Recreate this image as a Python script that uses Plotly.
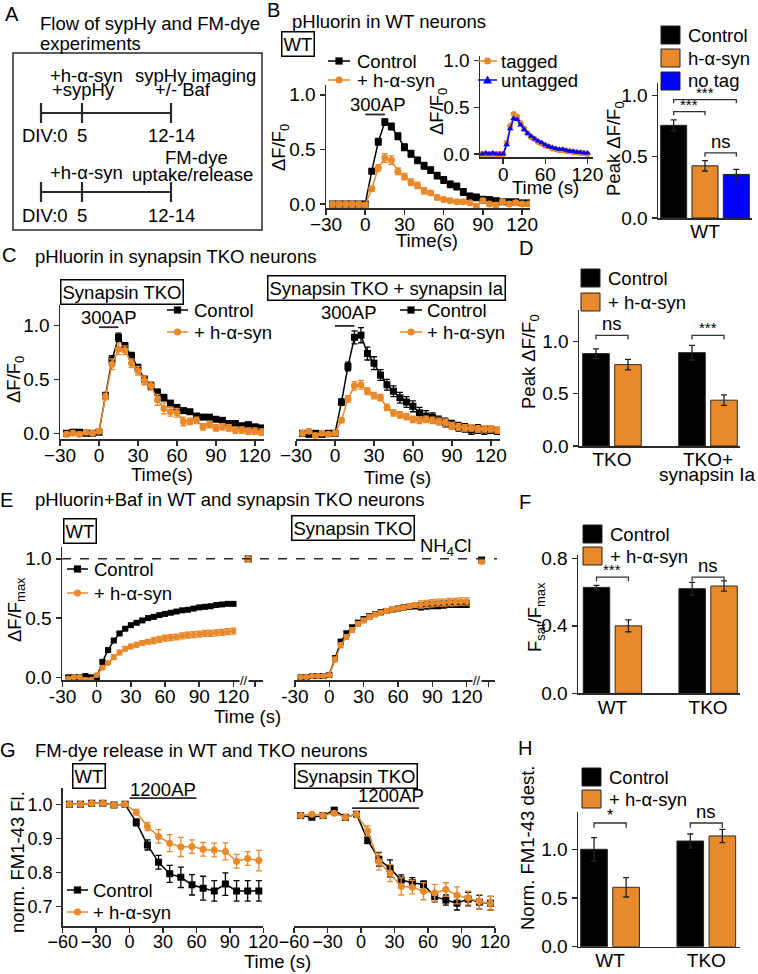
import plotly.graph_objects as go

# ---------------- data ----------------
# Panel B (WT sypHy, 300AP)
B_TIME = [-25, -20, -15, -10, -5, 0, 5, 10, 15, 20, 25, 30, 35, 40, 45, 50, 55, 60, 65, 70, 75, 80, 85, 90, 95, 100, 105, 110, 115, 120, 125]
B_CTRL = [0.0, 0.0, 0.0, 0.0, 0.0, 0.0, 0.30, 0.57, 0.75, 0.71, 0.62, 0.52, 0.46, 0.40, 0.35, 0.31, 0.26, 0.22, 0.18, 0.16, 0.11, 0.07, 0.06, 0.04, 0.04, 0.03, 0.02, 0.02, 0.02, 0.01, 0.01]
B_CTRL_ERR = [0.02, 0.02, 0.02, 0.02, 0.02, 0.02, 0.02, 0.03, 0.03, 0.03, 0.03, 0.03, 0.03, 0.03, 0.03, 0.03, 0.03, 0.03, 0.03, 0.03, 0.03, 0.03, 0.03, 0.03, 0.02, 0.02, 0.02, 0.02, 0.02, 0.02, 0.02]
B_SYN = [0.0, 0.0, 0.0, 0.0, 0.0, -0.01, 0.14, 0.33, 0.42, 0.40, 0.30, 0.25, 0.20, 0.17, 0.12, 0.10, 0.06, 0.04, 0.03, 0.02, 0.02, 0.01, -0.02, 0.03, 0.0, -0.01, 0.02, 0.0, 0.01, 0.0, 0.0]
B_SYN_ERR = [0.02, 0.02, 0.02, 0.02, 0.02, 0.02, 0.02, 0.03, 0.04, 0.04, 0.03, 0.03, 0.03, 0.03, 0.03, 0.02, 0.02, 0.02, 0.02, 0.02, 0.02, 0.02, 0.02, 0.02, 0.02, 0.02, 0.02, 0.02, 0.02, 0.02, 0.02]

# Panel B inset (tagged / untagged)
INS_TIME = [-30, -25, -20, -15, -10, -5, 0, 5, 10, 15, 20, 25, 30, 35, 40, 45, 50, 55, 60, 65, 70, 75, 80, 85, 90, 95, 100, 105, 110, 115, 120]
INS_TAGGED = [0.0, 0.0, 0.0, 0.0, 0.0, 0.0, 0.0, 0.12, 0.30, 0.43, 0.40, 0.33, 0.27, 0.22, 0.18, 0.16, 0.13, 0.11, 0.09, 0.08, 0.06, 0.05, 0.04, 0.04, 0.03, 0.03, 0.02, 0.02, 0.01, 0.01, 0.0]
INS_UNTAGGED = [0.0, 0.01, 0.0, 0.01, 0.0, 0.0, 0.0, 0.10, 0.27, 0.38, 0.37, 0.31, 0.26, 0.22, 0.19, 0.16, 0.14, 0.12, 0.10, 0.08, 0.07, 0.06, 0.05, 0.05, 0.04, 0.03, 0.03, 0.02, 0.02, 0.01, 0.01]

# Panel B bars
B_BAR_LABELS = ["Control", "h-α-syn", "no tag"]
B_BAR_VALUES = [0.755, 0.425, 0.355]
B_BAR_ERR = [0.045, 0.042, 0.042]

# Panel C (TKO and TKO + synapsin Ia)
C_TIME = [-25, -20, -15, -10, -5, 0, 5, 10, 15, 20, 25, 30, 35, 40, 45, 50, 55, 60, 65, 70, 75, 80, 85, 90, 95, 100, 105, 110, 115, 120, 125]
C_TKO_CTRL = [0.0, 0.01, 0.01, 0.0, 0.0, 0.01, 0.35, 0.68, 0.89, 0.81, 0.72, 0.61, 0.50, 0.44, 0.38, 0.33, 0.28, 0.24, 0.21, 0.20, 0.16, 0.15, 0.15, 0.13, 0.12, 0.09, 0.09, 0.07, 0.08, 0.06, 0.05]
C_TKO_CTRL_ERR = [0.02, 0.02, 0.02, 0.02, 0.02, 0.02, 0.03, 0.04, 0.04, 0.03, 0.03, 0.03, 0.03, 0.03, 0.03, 0.03, 0.02, 0.02, 0.02, 0.02, 0.02, 0.02, 0.02, 0.02, 0.02, 0.02, 0.02, 0.02, 0.02, 0.02, 0.02]
C_TKO_SYN = [-0.01, 0.0, -0.01, 0.01, 0.0, 0.02, 0.34, 0.64, 0.78, 0.77, 0.65, 0.58, 0.49, 0.44, 0.31, 0.23, 0.20, 0.19, 0.11, 0.11, 0.12, 0.06, 0.08, 0.05, 0.06, 0.05, 0.03, 0.03, 0.02, 0.02, 0.01]
C_TKO_SYN_ERR = [0.02, 0.02, 0.02, 0.02, 0.02, 0.02, 0.03, 0.05, 0.05, 0.04, 0.04, 0.04, 0.04, 0.04, 0.05, 0.05, 0.04, 0.04, 0.04, 0.03, 0.03, 0.03, 0.03, 0.03, 0.03, 0.03, 0.03, 0.03, 0.03, 0.03, 0.03]
C_IA_CTRL = [0.0, -0.01, 0.0, -0.01, 0.0, 0.0, 0.29, 0.62, 0.89, 0.91, 0.74, 0.65, 0.54, 0.45, 0.39, 0.33, 0.29, 0.25, 0.19, 0.16, 0.15, 0.12, 0.10, 0.08, 0.06, 0.05, 0.03, 0.04, 0.03, 0.03, 0.02]
C_IA_CTRL_ERR = [0.02, 0.02, 0.02, 0.02, 0.02, 0.02, 0.03, 0.04, 0.06, 0.07, 0.06, 0.06, 0.05, 0.05, 0.05, 0.05, 0.05, 0.05, 0.05, 0.05, 0.04, 0.04, 0.04, 0.04, 0.04, 0.04, 0.04, 0.04, 0.04, 0.03, 0.03]
C_IA_SYN = [0.0, 0.02, -0.02, 0.0, -0.01, 0.0, 0.12, 0.32, 0.44, 0.45, 0.39, 0.35, 0.33, 0.24, 0.19, 0.17, 0.155, 0.13, 0.12, 0.13, 0.12, 0.11, 0.10, 0.07, 0.06, 0.05, 0.05, 0.04, 0.04, 0.04, 0.03]
C_IA_SYN_ERR = [0.02, 0.02, 0.02, 0.02, 0.02, 0.02, 0.02, 0.03, 0.04, 0.04, 0.03, 0.03, 0.03, 0.03, 0.03, 0.03, 0.03, 0.03, 0.03, 0.03, 0.03, 0.03, 0.03, 0.03, 0.03, 0.03, 0.03, 0.03, 0.03, 0.03, 0.03]

# Panel D bars
D_GROUPS = ["TKO", "TKO+"]
D_GROUP_SUB = "synapsin Ia"
D_CTRL = [0.883, 0.892]
D_CTRL_ERR = [0.045, 0.07]
D_SYN = [0.778, 0.438]
D_SYN_ERR = [0.05, 0.05]

# Panel E (Baf)
E_TIME = [-25, -20, -15, -10, -5, 0, 5, 10, 15, 20, 25, 30, 35, 40, 45, 50, 55, 60, 65, 70, 75, 80, 85, 90, 95, 100, 105, 110, 115, 120]
E_WT_CTRL = [0.0, 0.0, 0.0, 0.01, 0.0, 0.0, 0.13, 0.23, 0.31, 0.37, 0.41, 0.44, 0.46, 0.48, 0.50, 0.51, 0.525, 0.535, 0.545, 0.555, 0.565, 0.57, 0.58, 0.59, 0.595, 0.60, 0.61, 0.615, 0.62, 0.62]
E_WT_CTRL_ERR = [0.01, 0.01, 0.01, 0.01, 0.01, 0.01, 0.01, 0.01, 0.01, 0.01, 0.01, 0.01, 0.01, 0.01, 0.01, 0.01, 0.01, 0.01, 0.01, 0.01, 0.01, 0.01, 0.01, 0.01, 0.01, 0.01, 0.01, 0.01, 0.01, 0.01]
E_WT_SYN = [-0.01, 0.0, 0.0, -0.02, -0.02, 0.02, 0.08, 0.12, 0.17, 0.21, 0.24, 0.26, 0.275, 0.29, 0.30, 0.31, 0.32, 0.33, 0.335, 0.34, 0.35, 0.355, 0.36, 0.365, 0.37, 0.37, 0.375, 0.38, 0.385, 0.39]
E_WT_SYN_ERR = [0.01, 0.01, 0.01, 0.01, 0.01, 0.01, 0.01, 0.01, 0.02, 0.02, 0.02, 0.02, 0.02, 0.02, 0.02, 0.025, 0.025, 0.025, 0.025, 0.025, 0.025, 0.025, 0.025, 0.025, 0.025, 0.025, 0.025, 0.025, 0.025, 0.025]
E_TKO_CTRL = [0.0, 0.0, 0.01, 0.01, 0.01, 0.02, 0.16, 0.30, 0.37, 0.42, 0.46, 0.49, 0.515, 0.535, 0.55, 0.56, 0.57, 0.58, 0.59, 0.595, 0.60, 0.60, 0.605, 0.61, 0.61, 0.615, 0.62, 0.62, 0.62, 0.62]
E_TKO_CTRL_ERR = [0.01, 0.01, 0.01, 0.01, 0.01, 0.01, 0.02, 0.02, 0.02, 0.02, 0.02, 0.02, 0.02, 0.02, 0.02, 0.02, 0.02, 0.02, 0.02, 0.02, 0.02, 0.03, 0.03, 0.03, 0.03, 0.03, 0.03, 0.03, 0.03, 0.03]
E_TKO_SYN = [0.0, 0.0, 0.01, 0.01, 0.01, 0.02, 0.15, 0.27, 0.34, 0.40, 0.45, 0.48, 0.51, 0.53, 0.545, 0.56, 0.57, 0.58, 0.59, 0.60, 0.61, 0.615, 0.62, 0.625, 0.63, 0.63, 0.635, 0.635, 0.64, 0.64]
E_TKO_SYN_ERR = [0.01, 0.01, 0.01, 0.01, 0.01, 0.01, 0.02, 0.02, 0.02, 0.02, 0.02, 0.02, 0.02, 0.02, 0.02, 0.02, 0.02, 0.02, 0.02, 0.02, 0.02, 0.03, 0.03, 0.03, 0.03, 0.03, 0.03, 0.03, 0.03, 0.03]
E_NH4_TIME = [133]
E_WT_NH4_CTRL = [1.0]
E_WT_NH4_SYN = [1.0]
E_TKO_NH4_CTRL = [0.99]
E_TKO_NH4_SYN = [0.98]

# Panel F bars
F_GROUPS = ["WT", "TKO"]
F_CTRL = [0.628, 0.620]
F_CTRL_ERR = [0.012, 0.038]
F_SYN = [0.400, 0.636]
F_SYN_ERR = [0.035, 0.03]

# Panel G (FM dye release, 1200AP)
G_TIME = [-54, -44, -34, -24, -14, -4, 6, 16, 26, 36, 46, 56, 66, 76, 86, 96, 106, 116]
G_WT_CTRL = [1.0, 1.0, 1.003, 1.003, 0.998, 1.0, 0.947, 0.881, 0.830, 0.796, 0.786, 0.764, 0.754, 0.746, 0.766, 0.746, 0.746, 0.746]
G_WT_CTRL_ERR = [0.005, 0.005, 0.005, 0.005, 0.005, 0.005, 0.01, 0.015, 0.02, 0.025, 0.03, 0.03, 0.035, 0.03, 0.033, 0.03, 0.03, 0.03]
G_WT_SYN = [1.0, 1.0, 1.003, 1.003, 0.998, 1.0, 0.977, 0.935, 0.906, 0.886, 0.875, 0.876, 0.868, 0.866, 0.862, 0.833, 0.841, 0.835]
G_WT_SYN_ERR = [0.005, 0.005, 0.005, 0.005, 0.005, 0.005, 0.008, 0.012, 0.02, 0.025, 0.028, 0.02, 0.02, 0.02, 0.025, 0.02, 0.02, 0.03]
G_TKO_CTRL = [0.967, 0.962, 0.967, 0.983, 0.962, 0.971, 0.895, 0.839, 0.812, 0.778, 0.770, 0.765, 0.729, 0.719, 0.710, 0.722, 0.713, 0.710]
G_TKO_CTRL_ERR = [0.005, 0.005, 0.005, 0.005, 0.005, 0.005, 0.01, 0.02, 0.025, 0.015, 0.015, 0.01, 0.015, 0.015, 0.02, 0.02, 0.02, 0.02]
G_TKO_SYN = [0.967, 0.971, 0.967, 0.974, 0.962, 0.971, 0.922, 0.832, 0.798, 0.759, 0.757, 0.745, 0.740, 0.750, 0.733, 0.725, 0.715, 0.710]
G_TKO_SYN_ERR = [0.005, 0.005, 0.005, 0.005, 0.005, 0.005, 0.015, 0.025, 0.025, 0.025, 0.02, 0.025, 0.025, 0.02, 0.025, 0.02, 0.02, 0.02]

# Panel H bars
H_GROUPS = ["WT", "TKO"]
H_CTRL = [1.0, 1.085]
H_CTRL_ERR = [0.12, 0.072]
H_SYN = [0.61, 1.137]
H_SYN_ERR = [0.10, 0.068]

# ---------------- styling ----------------
W, H = 758, 974
FONT = "Liberation Sans, Arial, sans-serif"
ORANGE = "#E8892B"
BLACK = "#000000"
BLUE = "#0000FF"
AXC = "#2a2a2a"
TICK = 19
TXT = 18.5


def X(p):
    return p / W


def Y(p):
    return 1 - p / H


def dx(a, b):
    return [a / W, b / W]


def dy(top, bottom):
    return [1 - bottom / H, 1 - top / H]


fig = go.Figure()
ann = []
shp = []


def text(x, y, s, size=TXT, xanchor="left", yanchor="middle", angle=0, **kw):
    ann.append(dict(x=X(x), y=Y(y), xref="paper", yref="paper", text=s, showarrow=False,
                    xanchor=xanchor, yanchor=yanchor, textangle=angle,
                    font=dict(size=size, family=FONT, color="black"), **kw))


def boxed(x, y, s):
    text(x, y, s, xanchor="center", bordercolor="black", borderwidth=1.5, borderpad=1, bgcolor="white")


def pline(x0, y0, x1, y1, width=1.5, color=AXC, dash=None):
    shp.append(dict(type="line", xref="paper", yref="paper", x0=X(x0), y0=Y(y0), x1=X(x1), y1=Y(y1),
                    line=dict(color=color, width=width, dash=dash)))


def legend_line(x0, x1, y, color, symbol, label, tx):
    pline(x0, y, x1, y, width=1.5, color=color)
    cx = (x0 + x1) / 2
    r = 3.6
    if symbol == "square":
        shp.append(dict(type="rect", xref="paper", yref="paper", x0=X(cx - r), x1=X(cx + r), y0=Y(y - r), y1=Y(y + r),
                        fillcolor=color, line=dict(color=color, width=0)))
    elif symbol == "circle":
        shp.append(dict(type="circle", xref="paper", yref="paper", x0=X(cx - r), x1=X(cx + r), y0=Y(y - r), y1=Y(y + r),
                        fillcolor=color, line=dict(color=color, width=0)))
    else:
        shp.append(dict(type="path", xref="paper", yref="paper",
                        path=f"M {X(cx)},{Y(y - 4.5)} L {X(cx + 4.5)},{Y(y + 3.5)} L {X(cx - 4.5)},{Y(y + 3.5)} Z",
                        fillcolor=color, line=dict(color=color, width=0)))
    text(tx, y, label)


def series(t, v, e, color, symbol, name, n, size=7):
    fig.add_trace(go.Scatter(
        x=t, y=v, mode="lines+markers", name=name,
        line=dict(color=color, width=1.5),
        marker=dict(symbol=symbol, size=size, color=color),
        error_y=dict(type="data", array=e, color=color, thickness=1.3, width=3) if e is not None else None,
        xaxis="x" + ("" if n == 1 else str(n)), yaxis="y" + ("" if n == 1 else str(n)),
        showlegend=False))


def axis(domain, rng, **kw):
    d = dict(domain=domain, range=rng, showline=True, linecolor=AXC, linewidth=1.5,
             ticks="outside", ticklen=5, tickwidth=1.5, tickcolor=AXC, tickangle=0,
             tickfont=dict(size=TICK, family=FONT, color="black"), automargin=False,
             showgrid=False, zeroline=False, fixedrange=True)
    d.update(kw)
    return d


def hidden_y(domain, rng, anchor):
    return dict(domain=domain, range=rng, showline=False, showticklabels=False, ticks="", automargin=False,
                showgrid=False, zeroline=False, anchor=anchor, fixedrange=True)


def bar_group(n, groups, ctrl, ctrl_err, syn, syn_err):
    xa = "x" + str(n)
    ya = "y" + str(n)
    pos_c = [g * 3 for g in range(len(groups))]
    pos_s = [g * 3 + 1 for g in range(len(groups))]
    fig.add_trace(go.Bar(x=pos_c, y=ctrl, width=0.83, marker=dict(color=BLACK, line=dict(color="#222", width=1)),
                         error_y=dict(type="data", array=ctrl_err, color="#222", thickness=1.3, width=3),
                         xaxis=xa, yaxis=ya, showlegend=False, name="Control"))
    fig.add_trace(go.Bar(x=pos_s, y=syn, width=0.83, marker=dict(color=ORANGE, line=dict(color="#3a2a1a", width=1)),
                         error_y=dict(type="data", array=syn_err, color="#222", thickness=1.3, width=3),
                         xaxis=xa, yaxis=ya, showlegend=False, name="+ h-α-syn"))
    return [g * 3 + 0.5 for g in range(len(groups))]


def bracket(n, x0, x1, y, d, label, size=TXT):
    xa = "x" + str(n)
    ya = "y" + str(n)
    shp.append(dict(type="path", xref=xa, yref=ya,
                    path=f"M {x0},{y - d} L {x0},{y} L {x1},{y} L {x1},{y - d}",
                    line=dict(color="#333", width=1.3)))
    ann.append(dict(x=(x0 + x1) / 2, y=y, xref=xa, yref=ya, text=label, showarrow=False,
                    xanchor="center", yanchor="bottom", yshift=-3 if label != "ns" else -1,
                    font=dict(size=size, family=FONT, color="black")))


def legend_box(x, y, color, label, edge="#222"):
    shp.append(dict(type="rect", xref="paper", yref="paper", x0=X(x), x1=X(x + 19), y0=Y(y), y1=Y(y + 18),
                    fillcolor=color, line=dict(color=edge, width=1)))
    text(x + 25, y + 9, label)


# ---------------- Panel A ----------------
text(12, 14, "A", size=20, xanchor="center")
text(38, 23, "Flow of sypHy and FM-dye")
text(38, 43, "experiments")
shp.append(dict(type="rect", xref="paper", yref="paper", x0=X(13), x1=X(262), y0=Y(53), y1=Y(230),
                line=dict(color=AXC, width=1.5)))
for ty in (113, 192):
    pline(41, ty, 171, ty, width=2.2)
    for tx in (41, 82, 171):
        pline(tx, ty - 10, tx, ty + 10, width=2.2)
text(48, 75, "+h-α-syn")
text(133, 75, "sypHy imaging")
text(50, 89, "+sypHy")
text(213, 89, "+/- Baf", xanchor="right")
text(45, 136, "DIV:0", xanchor="center")
text(82, 136, "5", xanchor="center")
text(171, 136, "12-14", xanchor="center")
text(48, 173, "+h-α-syn")
text(196, 157, "FM-dye", xanchor="center")
text(192, 174, "uptake/release", xanchor="center")
text(45, 216, "DIV:0", xanchor="center")
text(82, 216, "5", xanchor="center")
text(171, 216, "12-14", xanchor="center")

# ---------------- Panel B ----------------
text(273, 10, "B", size=20, xanchor="center")
text(290, 22, "pHluorin in WT neurons")
boxed(298, 44, "WT")
series(B_TIME, B_CTRL, B_CTRL_ERR, BLACK, "square", "Control", 1)
series(B_TIME, B_SYN, B_SYN_ERR, ORANGE, "circle", "+ h-α-syn", 1)
legend_line(328, 350, 61, BLACK, "square", "Control", 355)
legend_line(328, 350, 80, ORANGE, "circle", "+ h-α-syn", 355)
shp.append(dict(type="line", xref="x", yref="y", x0=0, x1=15, y0=0.82, y1=0.82, line=dict(color=AXC, width=1.8)))
text(378, 104, "300AP", xanchor="center")
text(280, 148, "ΔF/F<sub>0</sub>", xanchor="center", angle=-90)
text(427, 240, "Time(s)", xanchor="center")

# inset
series(INS_TIME, INS_TAGGED, None, ORANGE, "circle", "tagged", 2, size=6)
series(INS_TIME, INS_UNTAGGED, None, BLUE, "triangle-up", "untagged", 2, size=6)
legend_line(478, 497, 61, ORANGE, "circle", "tagged", 499)
legend_line(478, 497, 80, BLUE, "triangle", "untagged", 499)
text(438, 112, "ΔF/F<sub>0</sub>", xanchor="center", angle=-90)
text(545, 188, "Time (s)", xanchor="center")

# B bars
fig.add_trace(go.Bar(x=[0, 1, 2], y=B_BAR_VALUES, width=0.83,
                     marker=dict(color=[BLACK, ORANGE, BLUE], line=dict(color="#222", width=1)),
                     error_y=dict(type="data", array=B_BAR_ERR, color="#222", thickness=1.3, width=3),
                     xaxis="x3", yaxis="y3", showlegend=False, name="Peak"))
legend_box(661, 26, BLACK, B_BAR_LABELS[0])
legend_box(661, 49, ORANGE, B_BAR_LABELS[1])
legend_box(661, 72, BLUE, B_BAR_LABELS[2])
bracket(3, 0, 2, 0.965, 0.03, "***", size=15)
bracket(3, 0, 1, 0.867, 0.03, "***", size=15)
bracket(3, 1, 2, 0.53, 0.03, "ns")
text(615, 149, "Peak ΔF/F<sub>0</sub>", xanchor="center", angle=-90)

# ---------------- Panel C ----------------
text(9, 255, "C", size=20, xanchor="center")
text(33, 256, "pHluorin in synapsin TKO neurons")
boxed(122, 292, "Synapsin TKO")
boxed(386, 288, "Synapsin TKO + synapsin Ia")
series(C_TIME, C_TKO_CTRL, C_TKO_CTRL_ERR, BLACK, "square", "Control", 4)
series(C_TIME, C_TKO_SYN, C_TKO_SYN_ERR, ORANGE, "circle", "+ h-α-syn", 4)
series(C_TIME, C_IA_CTRL, C_IA_CTRL_ERR, BLACK, "square", "Control", 5)
series(C_TIME, C_IA_SYN, C_IA_SYN_ERR, ORANGE, "circle", "+ h-α-syn", 5)
legend_line(167, 188, 310, BLACK, "square", "Control", 192)
legend_line(167, 188, 332, ORANGE, "circle", "+ h-α-syn", 192)
legend_line(400, 422, 310, BLACK, "square", "Control", 425)
legend_line(400, 422, 332, ORANGE, "circle", "+ h-α-syn", 425)
shp.append(dict(type="line", xref="x4", yref="y4", x0=0, x1=15, y0=0.984, y1=0.984, line=dict(color=AXC, width=1.8)))
shp.append(dict(type="line", xref="x5", yref="y5", x0=0, x1=15, y0=0.996, y1=0.996, line=dict(color=AXC, width=1.8)))
text(109, 317, "300AP", xanchor="center")
text(349, 313, "300AP", xanchor="center")
text(15, 380, "ΔF/F<sub>0</sub>", xanchor="center", angle=-90)
text(162, 475, "Time(s)", xanchor="center")
text(397, 477, "Time (s)", xanchor="center")

# ---------------- Panel D ----------------
text(526, 248, "D", size=20, xanchor="center")
d_ticks = bar_group(6, D_GROUPS, D_CTRL, D_CTRL_ERR, D_SYN, D_SYN_ERR)
text(707, 474, D_GROUP_SUB, size=TICK, xanchor="center")
legend_box(581, 269, BLACK, "Control")
legend_box(581, 293, ORANGE, "+ h-α-syn")
bracket(6, 0, 1, 1.057, 0.04, "ns")
bracket(6, 3, 4, 1.057, 0.04, "***", size=15)
text(530, 362, "Peak ΔF/F<sub>0</sub>", xanchor="center", angle=-90)

# ---------------- Panel E ----------------
text(6, 500, "E", size=20, xanchor="center")
text(33, 500, "pHluorin+Baf in WT and synapsin TKO neurons")
boxed(80, 531, "WT")
boxed(353, 528, "Synapsin TKO")
series(E_TIME, E_WT_CTRL, E_WT_CTRL_ERR, BLACK, "square", "Control", 7, size=6)
series(E_TIME, E_WT_SYN, E_WT_SYN_ERR, ORANGE, "circle", "+ h-α-syn", 7, size=6)
series(E_NH4_TIME, E_WT_NH4_CTRL, [0.01], BLACK, "square", "Control", 7, size=7)
series(E_NH4_TIME, E_WT_NH4_SYN, [0.01], ORANGE, "circle", "+ h-α-syn", 7, size=7)
series(E_TIME, E_TKO_CTRL, E_TKO_CTRL_ERR, BLACK, "square", "Control", 8, size=6)
series(E_TIME, E_TKO_SYN, E_TKO_SYN_ERR, ORANGE, "circle", "+ h-α-syn", 8, size=6)
series(E_NH4_TIME, E_TKO_NH4_CTRL, [0.02], BLACK, "square", "Control", 8, size=7)
series(E_NH4_TIME, E_TKO_NH4_SYN, [0.02], ORANGE, "circle", "+ h-α-syn", 8, size=7)
legend_line(67, 88, 569, BLACK, "square", "Control", 92)
legend_line(67, 88, 593, ORANGE, "circle", "+ h-α-syn", 92)
shp.append(dict(type="line", xref="paper", yref="y7", x0=X(62), x1=X(497), y0=1.0, y1=1.0,
                line=dict(color=AXC, width=1.5, dash="dash")))
for n, y0 in ((7, -0.023), (8, -0.023)):
    ann.append(dict(x=129, y=y0, xref="x" + str(n), yref="y" + str(n), text="//", showarrow=False,
                    xanchor="center", yanchor="middle", bgcolor="white", borderpad=0,
                    font=dict(size=13, family=FONT, color="black")))
text(445, 547, "NH<sub>4</sub>Cl", xanchor="center")
text(16, 610, "ΔF/F<sub>max</sub>", xanchor="center", angle=-90)
text(247, 716, "Time (s)", xanchor="center")

# ---------------- Panel F ----------------
text(525, 502, "F", size=20, xanchor="center")
f_ticks = bar_group(9, F_GROUPS, F_CTRL, F_CTRL_ERR, F_SYN, F_SYN_ERR)
legend_box(583, 525, BLACK, "Control")
legend_box(583, 547, ORANGE, "+ h-α-syn")
bracket(9, 0, 1, 0.689, 0.025, "***", size=15)
bracket(9, 3, 4, 0.689, 0.025, "ns")
text(536, 617, "F<sub>sat</sub>/F<sub>max</sub>", xanchor="center", angle=-90)

# ---------------- Panel G ----------------
text(8, 750, "G", size=20, xanchor="center")
text(33, 750, "FM-dye release in WT and TKO neurons")
boxed(89, 776, "WT")
boxed(356, 776, "Synapsin TKO")
series(G_TIME, G_WT_CTRL, G_WT_CTRL_ERR, BLACK, "square", "Control", 10)
series(G_TIME, G_WT_SYN, G_WT_SYN_ERR, ORANGE, "circle", "+ h-α-syn", 10)
series(G_TIME, G_TKO_CTRL, G_TKO_CTRL_ERR, BLACK, "square", "Control", 11)
series(G_TIME, G_TKO_SYN, G_TKO_SYN_ERR, ORANGE, "circle", "+ h-α-syn", 11)
legend_line(67, 88, 890, BLACK, "square", "Control", 91)
legend_line(67, 88, 912, ORANGE, "circle", "+ h-α-syn", 91)
shp.append(dict(type="line", xref="x10", yref="y10", x0=0, x1=60, y0=1.018, y1=1.018, line=dict(color=AXC, width=1.8)))
shp.append(dict(type="line", xref="x11", yref="y11", x0=-8, x1=52, y0=0.989, y1=0.989, line=dict(color=AXC, width=1.8)))
text(163, 789, "1200AP", xanchor="center")
text(391, 795, "1200AP", xanchor="center")
text(17, 862, "norm. FM1-43 Fl.", xanchor="center", angle=-90)
text(277, 961, "Time (s)", xanchor="center")

# ---------------- Panel H ----------------
text(525, 748, "H", size=20, xanchor="center")
h_ticks = bar_group(12, H_GROUPS, H_CTRL, H_CTRL_ERR, H_SYN, H_SYN_ERR)
legend_box(582, 768, BLACK, "Control")
legend_box(582, 790, ORANGE, "+ h-α-syn")
bracket(12, 0, 1, 1.27, 0.05, "*", size=16)
bracket(12, 3, 4, 1.27, 0.05, "ns")
text(527, 848, "Norm. FM1-43 dest.", xanchor="center", angle=-90)

# ---------------- axes ----------------
T6 = [-30, 0, 30, 60, 90, 120]
YT = dict(tickformat=".1f")
XS = dict(ticklabelstandoff=-6)
E_TV = [-30, 0, 30, 60, 90, 120, 139]
E_TT = ["-30", "0", "30", "60", "90", "120", ""]
BARX = dict(ticks="", showticklabels=True, ticklabelstandoff=-4)
G_TICKFONT = dict(size=18, family=FONT, color="black")

layout = dict(
    xaxis=axis(dx(326, 530), [-30, 126], tickvals=T6, anchor="y", **XS),
    yaxis=axis(dy(85, 208), [-0.037, 1.09], tickvals=[0, 0.5, 1.0], anchor="x", **YT),
    xaxis2=axis(dx(480, 593), [-33, 128], tickvals=[0, 60, 120], anchor="y2", **XS),
    yaxis2=axis(dy(56, 157.3), [-0.035, 1.05], tickvals=[0, 0.5, 1.0], anchor="x2", **YT),
    xaxis3=axis(dx(658, 752), [-0.5, 2.5], tickvals=[1], ticktext=["WT"], anchor="y3", **BARX),
    yaxis3=axis(dy(83, 218), [0, 1.1], tickvals=[0, 0.5, 1.0], anchor="x3", **YT),
    xaxis4=axis(dx(60, 264), [-30, 127], tickvals=T6, anchor="y4", **XS),
    yaxis4=axis(dy(305, 439), [-0.053, 1.19], tickvals=[0, 0.5, 1.0], anchor="x4", **YT),
    xaxis5=axis(dx(296, 500), [-30, 127], tickvals=T6, anchor="y5", **XS),
    yaxis5=hidden_y(dy(305, 439), [-0.053, 1.19], "x5"),
    xaxis6=axis(dx(579, 740), [-0.53, 4.5], tickvals=d_ticks, ticktext=D_GROUPS, anchor="y6", **BARX),
    yaxis6=axis(dy(310, 446), [0, 1.3], tickvals=[0, 0.5, 1.0], anchor="x6", **YT),
    xaxis7=axis(dx(62, 263), [-30.5, 146], tickvals=E_TV, ticktext=E_TT, anchor="y7", **XS),
    yaxis7=axis(dy(547, 680), [-0.023, 1.1], tickvals=[0, 0.5, 1.0], anchor="x7", **YT),
    xaxis8=axis(dx(294, 495), [-30.8, 144.7], tickvals=E_TV, ticktext=E_TT, anchor="y8", **XS),
    yaxis8=hidden_y(dy(547, 680), [-0.023, 1.1], "x8"),
    xaxis9=axis(dx(578, 740), [-0.58, 4.5], tickvals=f_ticks, ticktext=F_GROUPS, anchor="y9", **BARX),
    yaxis9=axis(dy(555, 693.3), [0, 0.82], tickvals=[0, 0.4, 0.8], anchor="x9", **YT),
    xaxis10=axis(dx(62.7, 263.3), [-60, 120], tickvals=[-60, -30, 0, 30, 60, 90, 120], anchor="y10",
                 tickfont=G_TICKFONT, **XS),
    yaxis10=axis(dy(788, 926), [0.643, 1.048], tickvals=[0.7, 0.8, 0.9, 1.0], anchor="x10",
                 tickfont=G_TICKFONT, **YT),
    xaxis11=axis(dx(294, 495), [-60, 120], tickvals=[-60, -30, 0, 30, 60, 90, 120], anchor="y11",
                 tickfont=G_TICKFONT, **XS),
    yaxis11=hidden_y(dy(788, 926), [0.643, 1.048], "x11"),
    xaxis12=axis(dx(578, 740), [-0.5, 4.55], tickvals=h_ticks, ticktext=H_GROUPS, anchor="y12", **BARX),
    yaxis12=axis(dy(811.7, 946.7), [0, 1.386], tickvals=[0, 0.5, 1.0], anchor="x12", **YT),
)

fig.update_layout(
    template="none",
    width=W, height=H, margin=dict(l=0, r=0, t=0, b=0, pad=0, autoexpand=False),
    paper_bgcolor="white", plot_bgcolor="white",
    font=dict(family=FONT, size=TXT, color="black"),
    showlegend=False, barmode="overlay",
    annotations=ann, shapes=shp, **layout)

fig.write_html("out.html", config={"displayModeBar": False, "staticPlot": True},
               post_script="document.body.style.margin='0';document.body.style.padding='0';")
